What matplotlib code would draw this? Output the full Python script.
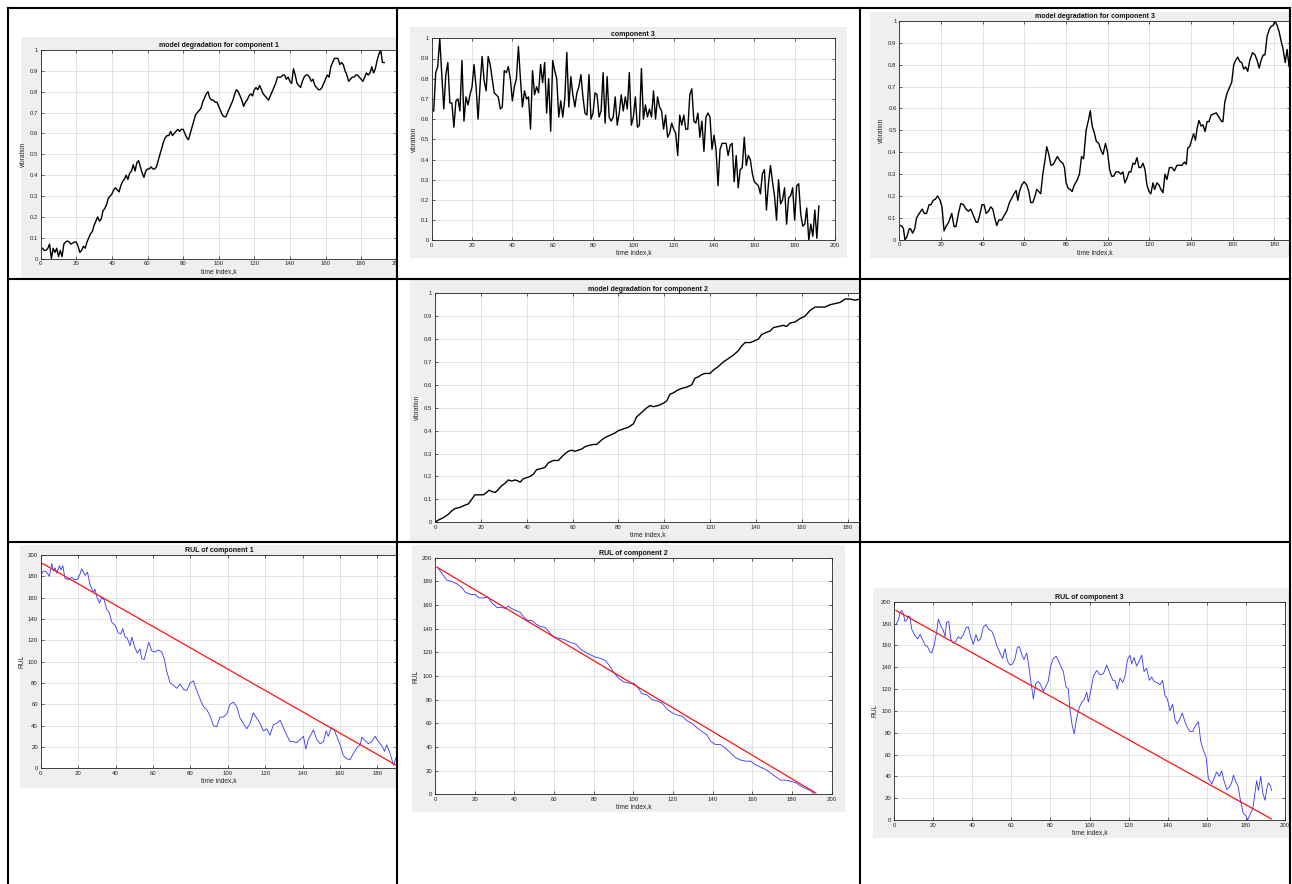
import matplotlib
matplotlib.use("Agg")
import matplotlib.pyplot as plt
from matplotlib.patches import Rectangle
from matplotlib.lines import Line2D
from matplotlib.transforms import Bbox, TransformedBbox

plt.rcParams['font.family'] = ['Liberation Sans', 'DejaVu Sans']

# ---- data ----
# model degradation for component 1, k = 1..193
deg1_y = [0.05,0.04,0.04,0.05,0.07,0.0,0.05,0.03,0.05,0.01,
          0.04,0.01,0.07,0.08,0.085,0.08,0.07,0.075,0.08,0.08,
          0.06,0.03,0.04,0.06,0.05,0.08,0.1,0.12,0.13,0.16,
          0.18,0.2,0.18,0.19,0.23,0.24,0.26,0.29,0.3,0.31,
          0.33,0.34,0.33,0.32,0.35,0.37,0.38,0.4,0.38,0.41,
          0.42,0.45,0.42,0.46,0.47,0.44,0.41,0.39,0.42,0.43,
          0.43,0.44,0.43,0.43,0.44,0.47,0.5,0.53,0.56,0.58,
          0.59,0.59,0.61,0.59,0.6,0.61,0.62,0.61,0.62,0.62,
          0.6,0.58,0.57,0.6,0.63,0.66,0.69,0.7,0.71,0.72,
          0.75,0.77,0.79,0.8,0.77,0.76,0.76,0.75,0.75,0.73,
          0.71,0.69,0.68,0.68,0.7,0.72,0.74,0.76,0.79,0.81,
          0.8,0.78,0.76,0.73,0.75,0.76,0.78,0.79,0.78,0.81,
          0.82,0.81,0.83,0.81,0.79,0.78,0.77,0.76,0.78,0.8,
          0.82,0.84,0.87,0.87,0.87,0.88,0.88,0.86,0.87,0.85,
          0.84,0.91,0.88,0.84,0.83,0.82,0.85,0.87,0.88,0.88,
          0.87,0.85,0.86,0.83,0.82,0.81,0.81,0.82,0.84,0.86,
          0.88,0.87,0.92,0.94,0.96,0.96,0.96,0.93,0.94,0.93,
          0.9,0.88,0.85,0.86,0.87,0.87,0.88,0.88,0.87,0.86,
          0.85,0.87,0.89,0.88,0.89,0.92,0.89,0.91,0.95,0.98,
          1.0,0.94,0.94]

# component 3 (raw vibration), k = 1..192
comp3_y = [0.64,0.83,0.86,1.0,0.82,0.65,0.82,0.88,0.68,0.68,
           0.56,0.69,0.7,0.64,0.89,0.59,0.71,0.67,0.72,0.76,
           0.87,0.76,0.6,0.77,0.91,0.79,0.74,0.91,0.87,0.8,
           0.73,0.72,0.71,0.65,0.66,0.84,0.83,0.86,0.8,0.69,
           0.76,0.8,0.96,0.8,0.66,0.74,0.7,0.71,0.55,0.84,
           0.72,0.76,0.73,0.87,0.78,0.88,0.63,0.8,0.54,0.89,
           0.84,0.8,0.61,0.69,0.61,0.7,0.93,0.66,0.81,0.72,
           0.66,0.73,0.76,0.82,0.71,0.63,0.62,0.82,0.6,0.63,
           0.73,0.72,0.61,0.64,0.83,0.58,0.81,0.61,0.59,0.61,
           0.71,0.57,0.63,0.72,0.64,0.71,0.65,0.83,0.57,0.61,
           0.71,0.56,0.57,0.85,0.6,0.67,0.61,0.65,0.61,0.74,
           0.6,0.71,0.66,0.64,0.55,0.62,0.51,0.53,0.58,0.55,
           0.53,0.42,0.62,0.57,0.62,0.55,0.55,0.72,0.75,0.59,
           0.58,0.63,0.51,0.59,0.44,0.61,0.63,0.61,0.45,0.52,
           0.45,0.27,0.45,0.48,0.48,0.48,0.42,0.47,0.48,0.29,
           0.42,0.26,0.35,0.36,0.51,0.37,0.42,0.4,0.33,0.29,
           0.28,0.27,0.23,0.33,0.35,0.15,0.28,0.37,0.29,0.22,
           0.1,0.3,0.18,0.2,0.26,0.08,0.21,0.22,0.26,0.1,
           0.27,0.28,0.13,0.07,0.08,0.16,0.0,0.08,0.02,0.15,
           0.01,0.17]

# model degradation for component 3
deg3_x = [0.6,1.4,2,2.7,3.5,4.8,5.4,6.4,7.4,8.3,9.6,11,12,13.1,14.3,15.2,16.3,17.3,18.4,19.6,
          20.5,21.5,22.4,23.7,25.2,26.3,27.2,28.4,29.5,30.8,32,33.2,34.3,35.6,36.9,37.7,38.8,39.7,40.7,41.7,
          42.8,43.9,44.9,45.8,46.8,47.8,49.2,50.3,51.6,52.9,54,55.1,56.1,56.9,57.7,58.8,59.9,61.2,62.2,63.1,
          64.1,65.2,66,67,67.9,68.9,69.9,70.8,71.8,72.8,74,75.3,75.9,77.2,78.5,79.3,80.1,81.1,82,83,
          84,85.3,86.5,87.5,88.5,89.7,90.9,91.7,92.6,93.6,94.6,95.8,96.8,97.8,99,100,101,102,102.9,104,
          105.3,106.4,107.4,108.3,109.3,110.3,111.2,112.2,113.1,114.1,115.1,116,117,118,118.9,119.9,120.8,121.8,122.6,123.7,
          124.7,125.6,126.6,127.6,128.5,129.7,130.9,132.1,133.3,134.6,135.7,136.9,137.8,138.5,139.4,140.5,141.3,142.2,143,143.9,
          144.9,145.8,146.8,147.8,148.7,149.7,150.9,152.2,153.5,154.8,155.4,156.3,157.4,158.7,159.6,160.6,161.5,162.5,163.5,164.4,
          165.4,166.3,167.3,168.3,169.6,170.8,171.8,172.8,173.7,174.7,175.6,176.6,177.6,178.5,179.5,180.4,181.4,182.4,183.3,184.3,
          185.3,186.2,187.2,188.1]
deg3_y = [0.065,0.06,0.05,0.0,0.01,0.05,0.05,0.03,0.05,0.1,0.12,0.14,0.12,0.12,0.16,0.16,0.18,0.185,0.2,0.18,
          0.15,0.04,0.06,0.08,0.12,0.06,0.06,0.12,0.165,0.16,0.14,0.13,0.14,0.11,0.08,0.08,0.12,0.16,0.16,0.12,
          0.13,0.15,0.14,0.1,0.065,0.09,0.09,0.11,0.13,0.17,0.19,0.21,0.225,0.18,0.22,0.25,0.265,0.25,0.22,0.17,
          0.17,0.2,0.23,0.22,0.21,0.3,0.36,0.425,0.39,0.34,0.345,0.37,0.38,0.36,0.35,0.33,0.26,0.235,0.23,0.22,
          0.25,0.27,0.3,0.38,0.37,0.5,0.55,0.59,0.52,0.49,0.45,0.44,0.41,0.39,0.44,0.4,0.32,0.29,0.29,0.31,
          0.31,0.3,0.31,0.26,0.28,0.31,0.31,0.35,0.345,0.375,0.33,0.33,0.35,0.32,0.25,0.22,0.21,0.26,0.23,0.26,
          0.25,0.23,0.215,0.3,0.275,0.33,0.33,0.315,0.34,0.34,0.34,0.355,0.345,0.42,0.425,0.46,0.485,0.455,0.51,0.545,
          0.52,0.525,0.495,0.54,0.54,0.57,0.575,0.58,0.56,0.54,0.54,0.63,0.67,0.7,0.72,0.8,0.82,0.835,0.815,0.81,
          0.78,0.79,0.77,0.82,0.855,0.845,0.82,0.785,0.82,0.845,0.845,0.93,0.96,0.975,0.98,1.0,0.98,0.95,0.91,0.87,
          0.81,0.87,0.79,0.82]

# model degradation for component 2
deg2_x = [0,1.5,3.6,5.8,7.3,8.7,10.9,13.1,14.5,16,17.4,19.6,21.1,22.5,23.5,24.7,26.2,27.3,29.1,30.5,
          32,33.4,34.9,36.3,37.1,38.5,40,41.4,42.9,44.3,46.5,48,49.4,51.6,53.8,55.2,56.7,58.1,59.6,61,
          62.5,64,65.4,66.9,69,70.5,72.7,74.1,76.3,78.5,79.9,81.4,82.8,84.3,86.5,87.9,90.1,92.3,93.8,95.2,
          97.4,99.6,101,102.5,103.9,105.4,107.6,109.7,111.9,113.4,114.8,116.3,117.7,119.9,121.4,123.5,125.7,127.9,130.1,132.3,
          133.7,135.2,137.4,138.8,141,142.4,144.6,146.1,147.5,149.7,151.9,153.3,154.8,157,159.2,161.3,163.5,165.7,167.9,170.1,
          172.2,174.4,176.6,178.8,181,183.2,185.5]
deg2_y = [0.0,0.01,0.02,0.035,0.05,0.06,0.065,0.075,0.08,0.1,0.12,0.12,0.12,0.13,0.14,0.135,0.13,0.14,0.16,0.17,
          0.185,0.18,0.185,0.18,0.175,0.19,0.195,0.2,0.21,0.23,0.235,0.24,0.26,0.27,0.27,0.285,0.3,0.31,0.315,0.31,
          0.315,0.32,0.33,0.335,0.34,0.34,0.36,0.37,0.38,0.39,0.4,0.405,0.41,0.415,0.43,0.46,0.48,0.5,0.51,0.505,
          0.51,0.52,0.53,0.56,0.565,0.575,0.585,0.59,0.6,0.63,0.635,0.645,0.65,0.65,0.665,0.68,0.7,0.715,0.73,0.75,
          0.77,0.785,0.785,0.79,0.8,0.82,0.83,0.835,0.85,0.855,0.86,0.855,0.87,0.875,0.89,0.9,0.925,0.94,0.94,0.94,
          0.95,0.955,0.96,0.975,0.975,0.97,0.975]

# RUL of component 1
rul1_x = [0.5,1.4,3.2,4.6,5.9,6.8,7.7,8.6,10,10.9,11.8,13,14.8,16.6,18,19.6,21,21.9,23.7,25,
          26.4,28.2,29,30,31.4,32.6,33.9,35.3,36.7,38,39.8,41.5,42.8,43.9,45.1,46.3,47.8,48.7,50.4,51.7,
          53.1,54,55.3,56.7,57.8,59.4,61.1,62.9,64.7,66,67.4,69.2,70.9,72.7,74.5,76.3,78.1,79.9,81.6,83.4,
          85.2,87,88.8,90.6,92.3,94.1,95.9,97.7,99.5,101.2,103,104.8,106.6,108.4,110.2,111.9,113.7,115.5,117.3,119.1,
          120.9,122.6,124.4,126.2,128,129.8,131.6,133.3,135.1,136.9,138.7,140.5,141.7,143.1,144.9,145.8,147.6,149.4,151.2,152.6,
          153.8,155.3,156.9,158.3,160.1,161.8,163.6,165.4,167.2,169,170.8,171.7,173.4,175.2,177,178.8,180.6,182.4,183.8,185,
          186.8,188.6,190]
rul1_y = [182,185,184,180,192,185,188,183,190,186,190,178,177,179,177,177,182,187,181,184,
          172,165,168,161,155,160,158,149,146,137,134,127,126,131,123,122,115,123,113,108,
          112,103,102,111,118,110,109,111,109,103,91,80,78,75,79,74,73,80,82,73,
          65,58,55,49,40,39,48,48,51,60,62,58,47,42,37,42,52,47,42,35,
          37,31,41,42,45,38,31,25,25,24,27,30,18,27,33,36,27,23,25,35,
          30,38,36,30,22,12,9,8,14,19,22,29,26,23,25,30,25,21,16,22,
          14,3,10]

# RUL of component 2
rul2_x = [1.2,3.4,5.9,8.4,10.9,13.5,15.2,17.7,20.2,22.2,24.4,26.6,28.6,31.1,33.7,35.4,37,38.7,41.2,42.9,
          44.6,46.8,48.8,50.8,53,55.6,57.6,59.8,62.3,64.8,67.3,69,71,73.2,75.8,78.3,80.8,83.3,85.9,87.9,
          90.1,92.6,95.1,97.6,100.2,101.9,104.4,106.9,109.4,112,114.5,117,119.5,122.1,124.6,127.1,129.6,132.2,134.7,137.2,
          138.9,141.4,143.9,146.5,149,151.5,154,156.6,159.1,161.6,164.1,166.7,169.2,171.7,174.2,176.8,179.3,181.8,184.3,186.9,
          189.4,191.1]
rul2_y = [192,187,181,180,178,175,171,169,169,166,166,167,162,158,158,157,159,157,155,154,
          150,147,147,144,142,141,137,133,132,131,129,128,127,123,120,118,116,115,113,109,
          103,98,95,94,94,91,85,84,80,79,77,72,69,67,66,62,60,56,53,50,
          45,42,42,39,35,31,29,28,28,25,23,21,18,15,12,12,11,10,7,5,
          3,0]

# RUL of component 3
rul3_x = [1,2.2,3.1,3.9,4.8,5.6,6.5,7.3,8.2,9,10.7,12.1,13.3,14.7,15.9,17.1,18.4,19.3,20.5,21.8,
          22.7,23.9,25.2,26.1,26.9,28,29,30.3,31.7,32.9,34.1,35.5,36.8,38,39.2,40.6,41.9,43.1,44.3,45.7,
          47.1,48.3,50,51.2,52.5,54.2,55.6,56.8,58,59.3,60.7,61.9,63.1,64.1,65.3,66.5,67.9,68.9,69.9,71.3,
          72.5,73.8,75,76.4,77.8,78.9,80.1,81.5,82.9,84.1,85.3,86.6,88,89.2,90,91.2,92.2,93.4,94.8,96,
          97.2,98.6,99.4,100.6,102,103.7,105.4,107.1,108.8,110.5,111.9,113,114.2,115.6,117,118.2,119.4,120.7,121.6,122.8,
          124.1,125.5,126.7,127.9,129.2,130.6,131.8,133,134.4,136.1,137.4,138.6,139.8,141.2,142.5,143.7,144.9,146.3,147.5,148.8,
          150,151.4,152.8,154,155.7,156.9,158.2,159.6,160.8,162.5,163.7,165,166.4,167.6,168.8,170.2,171.5,172.7,173.6,174.9,
          176.1,177.3,178.7,179.9,180.9,182.1,183.5,184.7,185.5,186.4,187.6,188.6,189.8,190.6,191.5,192.3,193.2]
rul3_y = [179,183,190,192,189,182,183,187,186,175,169,166,170,165,160,159,154,153,160,172,
          184,178,174,168,181,182,166,162,164,168,166,170,176,177,168,161,170,164,166,177,
          179,175,173,168,160,153,148,157,146,142,143,148,158,159,152,147,153,142,128,111,
          125,127,124,118,123,127,141,148,150,146,141,136,122,120,101,86,79,93,103,108,
          110,117,108,118,132,137,133,134,142,134,128,128,120,130,126,132,147,151,143,149,
          141,146,151,136,139,128,131,127,126,124,128,114,111,100,106,92,88,93,98,90,
          85,81,81,86,90,72,64,58,38,33,38,44,40,45,36,28,30,34,41,35,
          30,17,6,4,0,5,10,26,36,27,40,25,18,28,34,32,27]

# straight reference RUL lines (start, end)
ref1_x, ref1_y = [1, 192], [192, 1]
ref2_x, ref2_y = [1, 192], [192, 1]
ref3_x, ref3_y = [1, 193], [192, 1]

vib_ticks = [0, 0.1, 0.2, 0.3, 0.4, 0.5, 0.6, 0.7, 0.8, 0.9, 1]
vib_labels = ['0', '0.1', '0.2', '0.3', '0.4', '0.5', '0.6', '0.7', '0.8', '0.9', '1']
rul_ticks = [0, 20, 40, 60, 80, 100, 120, 140, 160, 180, 200]
k_ticks = [0, 20, 40, 60, 80, 100, 120, 140, 160, 180, 200]

W, H = 1292, 884
fig = plt.figure(figsize=(W / 100, H / 100), dpi=100)
fig.patch.set_facecolor('white')


def fr(l, t, r, b):
    return [l / W, 1 - b / H, (r - l) / W, (b - t) / H]


def gray(l, t, r, b):
    x, y, w, h = fr(l, t, r, b)
    fig.add_artist(Rectangle((x, y), w, h, transform=fig.transFigure,
                             facecolor='#efefef', edgecolor='none', zorder=-5))


def panel(l, t, r, b, xmax, title, ylabel, rul=False, cell=None):
    ax = fig.add_axes(fr(l, t, r, b))
    ax.set_xlim(0, xmax)
    ax.set_xticks(k_ticks)
    ax.set_xlim(0, xmax)
    if rul:
        ax.set_ylim(0, 200)
        ax.set_yticks(rul_ticks)
    else:
        ax.set_ylim(0, 1)
        ax.set_yticks(vib_ticks, vib_labels)
    ax.grid(True, color='#dedede', lw=0.6)
    ax.set_axisbelow(True)
    ax.tick_params(direction='in', length=2.5, width=0.5, labelsize=4.3,
                   colors='#262626', pad=2, top=True, right=True)
    for s in ax.spines.values():
        s.set_linewidth(0.6)
        s.set_color('#262626')
    ax.set_title(title, fontsize=5, fontweight='bold', pad=2, color='#111111')
    ax.set_xlabel('time index,k', fontsize=4.8, labelpad=1, color='#262626')
    ax.set_ylabel(ylabel, fontsize=4.8, labelpad=2, color='#262626')
    if cell is not None:
        cb = TransformedBbox(Bbox.from_extents(cell[0] / W, 1 - cell[3] / H,
                                               cell[2] / W, 1 - cell[1] / H),
                             fig.transFigure)
        for tk in ax.xaxis.get_major_ticks():
            tk.label1.set_clip_box(cb)
            tk.label1.set_clip_on(True)
    return ax


# top row
gray(21, 37, 397, 279)
ax = panel(40.7, 50, 396.7, 258.7, 200, 'model degradation for component 1',
           'vibration', cell=(8, 8, 396, 279))
ax.plot(range(1, len(deg1_y) + 1), deg1_y, color='k', lw=1.0)

gray(410, 27, 847, 258)
ax = panel(431.7, 38.3, 835, 240.3, 200, 'component 3', 'vibration')
ax.plot(range(1, len(comp3_y) + 1), comp3_y, color='k', lw=1.0)

gray(870, 12, 1290, 258)
ax = panel(899.3, 21, 1290, 239.7, 187.6, 'model degradation for component 3', 'vibration')
ax.plot(deg3_x, deg3_y, color='k', lw=1.0)

# middle row
gray(410, 280, 860, 542)
ax = panel(435, 293.3, 860, 522.3, 185.3, 'model degradation for component 2', 'vibration')
ax.plot(deg2_x, deg2_y, color='k', lw=1.0)

# bottom row
gray(20, 545, 397, 788)
ax = panel(40.7, 555, 397, 768.3, 190.5, 'RUL of component 1', 'RUL', rul=True)
ax.plot(rul1_x, rul1_y, color='#3333ff', lw=0.6)
ax.plot(ref1_x, ref1_y, color='#ff1010', lw=0.9)

gray(412, 545, 845, 812)
ax = panel(435, 557.7, 831.7, 794.3, 200, 'RUL of component 2', 'RUL', rul=True)
ax.plot(rul2_x, rul2_y, color='#3333ff', lw=0.6)
ax.plot(ref2_x, ref2_y, color='#ff1010', lw=0.9)

gray(873, 588, 1290, 838)
ax = panel(894, 601.7, 1285, 820, 200, 'RUL of component 3', 'RUL', rul=True)
ax.plot(rul3_x, rul3_y, color='#3333ff', lw=0.6)
ax.plot(ref3_x, ref3_y, color='#ff1010', lw=0.9)

# table grid lines
def hline(y, x0=7.5, x1=1290):
    fig.add_artist(Line2D([x0 / W, x1 / W], [1 - y / H, 1 - y / H],
                          transform=fig.transFigure, color='k', lw=1.5, zorder=20))


def vline(x, y0=7.5, y1=884):
    fig.add_artist(Line2D([x / W, x / W], [1 - y0 / H, 1 - y1 / H],
                          transform=fig.transFigure, color='k', lw=1.5, zorder=20))


hline(7.5)
hline(279)
hline(542)
vline(7.5)
vline(397)
vline(860)
vline(1290)

fig.savefig('out.png', dpi=100, facecolor='white')
